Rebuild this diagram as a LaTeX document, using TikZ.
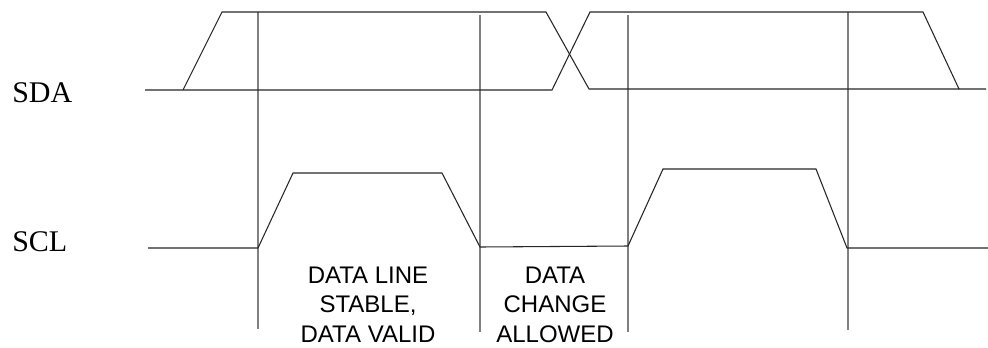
\documentclass[tikz,border=0pt]{standalone}
\usepackage{fontspec}
\setmainfont{Liberation Serif}
\newfontfamily\labelsans{Liberation Sans}
\begin{document}
\begin{tikzpicture}[x={(0.75pt,0)},y={(0,-0.75pt)},
  sig/.style={draw=black!85, line width=0.8pt, line join=miter},
  guide/.style={draw=black!50, line width=1pt},
  siglabel/.style={anchor=base west, inner sep=0pt, font=\fontsize{22.5pt}{27pt}\selectfont},
  note/.style={anchor=north, inner sep=0pt, align=center, font=\labelsans\fontsize{18pt}{21.9pt}\selectfont}]
\useasboundingbox (0,0) rectangle (988,347);
% labels
\node[siglabel] (sda) at (12,102) {SDA};
\node[siglabel] (scl) at (12,251) {SCL};
\node[note] (valid) at (368,267) {DATA LINE\\STABLE,\\DATA VALID};
\node[note] (change) at (555,267) {DATA\\CHANGE\\ALLOWED};
% guide lines
\coordinate (g1t) at (258,12); \coordinate (g1b) at (258,329);
\coordinate (g2t) at (480,15); \coordinate (g2b) at (480,332);
\coordinate (g3t) at (628,15); \coordinate (g3b) at (628,332);
\coordinate (g4t) at (848,12); \coordinate (g4b) at (848,330);
\draw[guide] (g1t) -- (g1b);
\draw[guide] (g2t) -- (g2b);
\draw[guide] (g3t) -- (g3b);
\draw[guide] (g4t) -- (g4b);
% SDA
\draw[sig] (145,90) -- (552,90) -- (590,12) -- (923,12) -- (959,89) -- (986,89);
\draw[sig] (183,90) -- (222,12) -- (546,12) -- (589,89) -- (959,89);
% SCL
\draw[sig] (148,248) -- (258,248) -- (293,173) -- (442,173) -- (480,247) -- (628,246) -- (663,169) -- (816,169) -- (847,248) -- (988,248);
\end{tikzpicture}
\end{document}
